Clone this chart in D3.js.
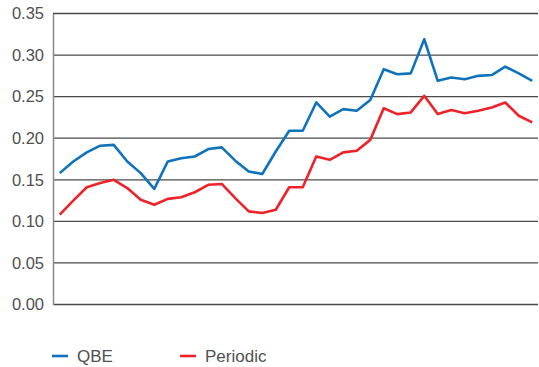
<!DOCTYPE html>
<html>
<head>
<meta charset="utf-8">
<script src="https://cdn.jsdelivr.net/npm/d3@7"></script>
<style>
  html, body { margin: 0; padding: 0; background: #fff; }
  svg { display: block; font-family: "Liberation Sans", Arial, sans-serif; }
</style>
</head>
<body>
<svg id="chart" width="539" height="367"></svg>
<script>
// Quarterly observations (36 periods)
const periods = d3.range(1, 37);

const qbe = [
  0.158, 0.172, 0.183, 0.191, 0.192, 0.172, 0.158, 0.139, 0.172, 0.176,
  0.178, 0.187, 0.189, 0.173, 0.160, 0.157, 0.184, 0.209, 0.209, 0.243,
  0.226, 0.235, 0.233, 0.246, 0.283, 0.277, 0.278, 0.319, 0.269, 0.273,
  0.271, 0.275, 0.276, 0.286, 0.278, 0.269
];

const periodic = [
  0.108, 0.125, 0.141, 0.146, 0.150, 0.140, 0.126, 0.120, 0.127, 0.129,
  0.135, 0.144, 0.145, 0.128, 0.112, 0.110, 0.114, 0.141, 0.141, 0.178,
  0.174, 0.183, 0.185, 0.198, 0.236, 0.229, 0.231, 0.251, 0.229, 0.234,
  0.230, 0.233, 0.237, 0.243, 0.227, 0.219
];

const yTicks = [0, 0.05, 0.10, 0.15, 0.20, 0.25, 0.30, 0.35];

const seriesNames = ["QBE", "Periodic"];
const seriesColors = ["#0F72BA", "#EE2229"];

const svg = d3.select("#chart");
const margin = { top: 13.5, right: 0, bottom: 62.5, left: 53 };
const width = 539, height = 367;

const x = d3.scalePoint()
  .domain(periods)
  .range([margin.left, width - margin.right])
  .padding(0.5);

const y = d3.scaleLinear()
  .domain([0, 0.35])
  .range([height - margin.bottom, margin.top]);

// horizontal gridlines
svg.append("g")
  .selectAll("line")
  .data(yTicks)
  .join("line")
  .attr("x1", margin.left)
  .attr("x2", width - 1)
  .attr("y1", d => y(d))
  .attr("y2", d => y(d))
  .attr("stroke", "#4a4a4a")
  .attr("stroke-width", 1.3);

// y axis labels
const yAxis = d3.axisLeft(y)
  .tickValues(yTicks)
  .tickFormat(d3.format(".2f"))
  .tickSize(0)
  .tickPadding(9);

const gy = svg.append("g")
  .attr("transform", `translate(${margin.left},0)`)
  .call(yAxis);
gy.select(".domain")
  .attr("stroke", "#8a8a8a")
  .attr("stroke-width", 1.5);
gy.selectAll("text")
  .attr("fill", "#505050")
  .style("font-size", "16.5px");

// series lines
const line = d3.line()
  .x((d, i) => x(periods[i]))
  .y(d => y(d));

[qbe, periodic].forEach((vals, k) => {
  svg.append("path")
    .datum(vals)
    .attr("fill", "none")
    .attr("stroke", seriesColors[k])
    .attr("stroke-width", 2.6)
    .attr("stroke-linejoin", "round")
    .attr("d", line);
});

// legend
const legendX = [52, 180];
const legend = svg.append("g");
seriesNames.forEach((name, k) => {
  legend.append("line")
    .attr("x1", legendX[k])
    .attr("x2", legendX[k] + 16)
    .attr("y1", 356)
    .attr("y2", 356)
    .attr("stroke", seriesColors[k])
    .attr("stroke-width", 2.6);
  legend.append("text")
    .attr("x", legendX[k] + 25)
    .attr("y", 362)
    .attr("fill", "#505050")
    .style("font-size", "17px")
    .text(name);
});
</script>
</body>
</html>
